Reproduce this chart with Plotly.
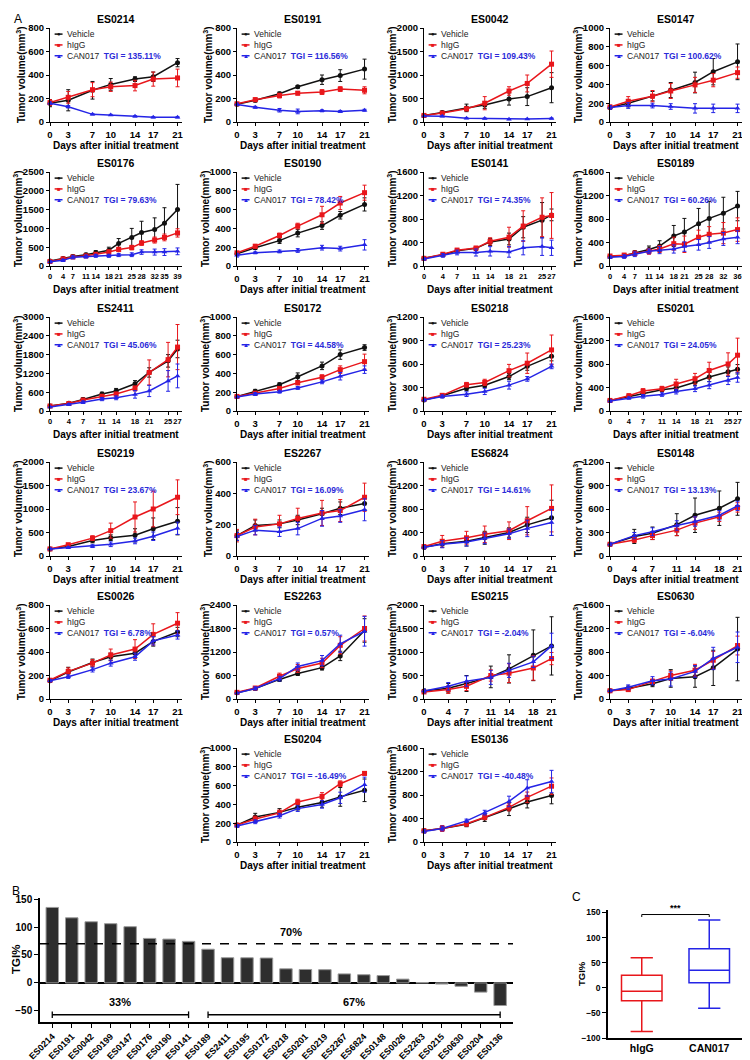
import plotly.graph_objects as go

W, H = 750, 1060
FONT = "Liberation Sans, Arial, sans-serif"
VEH_C = "#111111"
IGG_C = "#e8161b"
CAN_C = "#2424e6"
TGI_C = "#2b2bd9"

# ---------------------------------------------------------------------------
# Data: days and mean tumor volume (mm3) with error (SD) per model
# ---------------------------------------------------------------------------
DAYS_A = [0, 3, 7, 10, 14, 17, 21]
DAYS_B = [0, 4, 7, 11, 14, 18, 21]
DAYS_C = [0, 4, 7, 11, 14, 18, 21, 25, 27]
DAYS_ES0176 = [0, 4, 7, 11, 14, 18, 21, 25, 28, 32, 35, 39]
DAYS_ES0189 = [0, 4, 7, 11, 14, 18, 21, 25, 28, 32, 36]

es0214_veh = [160, 185, 270, 320, 365, 385, 505]
es0214_veh_sd = [30, 90, 75, 50, 20, 40, 35]
es0214_igg = [165, 210, 275, 300, 310, 365, 375]
es0214_igg_sd = [25, 50, 60, 40, 45, 60, 75]
es0214_can = [160, 130, 65, 60, 48, 40, 40]
es0214_can_sd = [10, 10, 5, 5, 5, 5, 5]

es0191_veh = [150, 185, 240, 300, 360, 395, 450]
es0191_veh_sd = [10, 15, 15, 10, 40, 50, 85]
es0191_igg = [155, 190, 225, 245, 255, 280, 270]
es0191_igg_sd = [10, 15, 20, 15, 20, 20, 30]
es0191_can = [150, 125, 100, 90, 95, 90, 100]
es0191_can_sd = [10, 8, 15, 20, 8, 8, 8]

es0042_veh = [140, 200, 300, 360, 490, 540, 730]
es0042_veh_sd = [20, 30, 80, 70, 130, 190, 320]
es0042_igg = [140, 190, 280, 400, 660, 820, 1230]
es0042_igg_sd = [20, 30, 40, 140, 90, 180, 280]
es0042_can = [130, 120, 80, 75, 60, 65, 75]
es0042_can_sd = [10, 10, 10, 10, 10, 10, 10]

es0147_veh = [155, 200, 275, 340, 420, 535, 640]
es0147_veh_sd = [20, 40, 50, 80, 110, 140, 190]
es0147_igg = [160, 220, 275, 330, 395, 445, 525]
es0147_igg_sd = [20, 50, 60, 80, 80, 70, 60]
es0147_can = [155, 175, 175, 165, 145, 145, 145]
es0147_can_sd = [20, 30, 25, 30, 50, 45, 45]

es0176_veh = [130, 200, 250, 300, 350, 420, 600, 760, 890, 970, 1140, 1500]
es0176_veh_sd = [30, 30, 40, 40, 60, 80, 130, 240, 300, 310, 410, 670]
es0176_igg = [120, 190, 240, 270, 310, 370, 440, 490, 610, 690, 760, 880]
es0176_igg_sd = [30, 30, 30, 40, 50, 60, 60, 60, 60, 80, 90, 110]
es0176_can = [110, 150, 230, 250, 270, 270, 290, 300, 370, 370, 370, 390]
es0176_can_sd = [30, 30, 40, 40, 40, 40, 40, 50, 60, 80, 90, 90]

es0190_veh = [130, 195, 270, 350, 430, 540, 655]
es0190_veh_sd = [15, 20, 30, 40, 40, 40, 70]
es0190_igg = [140, 210, 325, 425, 545, 670, 780]
es0190_igg_sd = [15, 20, 25, 30, 90, 70, 80]
es0190_can = [115, 140, 155, 165, 195, 185, 225]
es0190_can_sd = [20, 10, 15, 20, 25, 25, 55]

es0141_veh = [130, 190, 260, 300, 410, 460, 660, 780, 870]
es0141_veh_sd = [20, 30, 30, 30, 60, 100, 180, 300, 100]
es0141_igg = [130, 200, 270, 305, 420, 490, 680, 830, 860]
es0141_igg_sd = [20, 30, 30, 30, 60, 170, 260, 330, 390]
es0141_can = [120, 180, 230, 230, 250, 240, 310, 330, 310]
es0141_can_sd = [20, 30, 40, 60, 80, 90, 120, 150, 130]

es0189_veh = [160, 175, 220, 280, 340, 510, 580, 720, 810, 900, 1020]
es0189_veh_sd = [20, 30, 40, 60, 90, 180, 230, 260, 290, 270, 250]
es0189_igg = [170, 185, 215, 250, 290, 380, 370, 490, 540, 560, 620]
es0189_igg_sd = [20, 30, 40, 50, 60, 110, 140, 120, 130, 180, 200]
es0189_can = [150, 160, 200, 250, 270, 290, 330, 360, 400, 460, 490]
es0189_can_sd = [20, 30, 40, 40, 60, 70, 80, 90, 100, 110, 110]

es2411_veh = [160, 250, 370, 540, 640, 870, 1230, 1600, 1980]
es2411_veh_sd = [30, 40, 50, 60, 80, 100, 150, 200, 280]
es2411_igg = [160, 240, 350, 470, 540, 720, 1230, 1640, 2040]
es2411_igg_sd = [30, 40, 40, 50, 60, 80, 400, 550, 720]
es2411_can = [130, 210, 280, 380, 420, 530, 640, 960, 1120]
es2411_can_sd = [20, 30, 40, 50, 60, 120, 180, 330, 380]

es0172_veh = [155, 210, 280, 365, 480, 600, 675]
es0172_veh_sd = [10, 20, 20, 40, 40, 50, 30]
es0172_igg = [155, 190, 240, 300, 360, 440, 525]
es0172_igg_sd = [10, 15, 20, 20, 25, 40, 80]
es0172_can = [150, 180, 205, 245, 310, 370, 440]
es0172_can_sd = [10, 15, 15, 15, 20, 40, 40]

es0218_veh = [140, 195, 290, 330, 440, 570, 700]
es0218_veh_sd = [15, 20, 30, 30, 40, 50, 60]
es0218_igg = [150, 200, 335, 365, 515, 610, 780]
es0218_igg_sd = [15, 20, 30, 40, 80, 130, 190]
es0218_can = [140, 185, 215, 250, 330, 410, 570]
es0218_can_sd = [15, 20, 30, 40, 50, 30, 30]

es0201_veh = [180, 250, 300, 360, 390, 490, 580, 670, 710]
es0201_veh_sd = [20, 30, 30, 30, 40, 60, 80, 80, 80]
es0201_igg = [180, 260, 340, 380, 460, 550, 690, 800, 950]
es0201_igg_sd = [20, 30, 40, 40, 80, 90, 140, 190, 290]
es0201_can = [170, 220, 250, 280, 330, 380, 440, 520, 570]
es0201_can_sd = [20, 20, 30, 30, 40, 50, 60, 70, 80]

es0219_veh = [150, 200, 330, 390, 440, 580, 740]
es0219_veh_sd = [20, 30, 50, 60, 140, 230, 290]
es0219_igg = [150, 240, 380, 540, 830, 1000, 1250]
es0219_igg_sd = [20, 30, 50, 160, 320, 380, 370]
es0219_can = [150, 180, 210, 250, 320, 420, 590]
es0219_can_sd = [20, 20, 30, 50, 60, 90, 130]

es2267_veh = [130, 195, 205, 230, 270, 305, 335]
es2267_veh_sd = [30, 35, 25, 30, 35, 40, 40]
es2267_igg = [130, 185, 205, 240, 275, 290, 375]
es2267_igg_sd = [40, 50, 55, 65, 80, 70, 90]
es2267_can = [125, 165, 155, 175, 240, 255, 295]
es2267_can_sd = [25, 30, 30, 40, 50, 40, 70]

es6824_veh = [150, 210, 250, 310, 400, 530, 650]
es6824_veh_sd = [30, 60, 80, 110, 80, 130, 300]
es6824_igg = [160, 250, 310, 370, 430, 600, 810]
es6824_igg_sd = [30, 100, 110, 140, 150, 240, 400]
es6824_can = [150, 200, 240, 300, 380, 470, 570]
es6824_can_sd = [30, 60, 70, 90, 80, 140, 220]

es0148_veh = [150, 250, 290, 400, 520, 610, 730]
es0148_veh_sd = [20, 90, 80, 140, 220, 220, 210]
es0148_igg = [150, 205, 260, 330, 420, 500, 620]
es0148_igg_sd = [15, 30, 50, 70, 80, 60, 60]
es0148_can = [150, 260, 310, 390, 440, 520, 640]
es0148_can_sd = [20, 40, 50, 60, 60, 60, 60]

es0026_veh = [155, 230, 310, 360, 390, 490, 570]
es0026_veh_sd = [10, 40, 30, 30, 30, 40, 40]
es0026_igg = [160, 235, 305, 375, 425, 550, 645]
es0026_igg_sd = [10, 30, 30, 50, 80, 90, 90]
es0026_can = [155, 190, 250, 305, 360, 495, 545]
es0026_can_sd = [10, 15, 20, 25, 30, 35, 35]

es2263_veh = [160, 270, 500, 650, 800, 1100, 1750]
es2263_veh_sd = [20, 40, 50, 50, 60, 120, 300]
es2263_igg = [170, 280, 580, 780, 920, 1370, 1800]
es2263_igg_sd = [20, 40, 80, 100, 120, 220, 320]
es2263_can = [150, 270, 520, 830, 980, 1410, 1730]
es2263_can_sd = [20, 40, 60, 90, 130, 220, 380]

es0215_veh = [170, 230, 330, 470, 640, 930, 1130]
es0215_veh_sd = [40, 100, 170, 230, 300, 540, 620]
es0215_igg = [150, 200, 270, 500, 550, 660, 860]
es0215_igg_sd = [30, 80, 90, 120, 200, 260, 130]
es0215_can = [170, 270, 380, 460, 610, 790, 1130]
es0215_can_sd = [40, 80, 110, 150, 150, 120, 270]

es0630_veh = [140, 180, 260, 350, 380, 530, 850]
es0630_veh_sd = [20, 40, 50, 150, 180, 300, 540]
es0630_igg = [140, 160, 300, 400, 490, 660, 910]
es0630_igg_sd = [20, 30, 40, 80, 100, 150, 160]
es0630_can = [140, 200, 310, 340, 470, 690, 880]
es0630_can_sd = [20, 40, 70, 120, 100, 190, 260]

es0204_veh = [180, 265, 315, 370, 420, 480, 550]
es0204_veh_sd = [15, 40, 40, 30, 50, 100, 120]
es0204_igg = [180, 245, 310, 425, 485, 620, 730]
es0204_igg_sd = [15, 30, 30, 30, 40, 30, 20]
es0204_can = [170, 215, 280, 355, 400, 470, 610]
es0204_can_sd = [15, 20, 25, 30, 40, 60, 80]

es0136_veh = [190, 230, 300, 410, 560, 680, 790]
es0136_veh_sd = [30, 40, 40, 60, 110, 100, 140]
es0136_igg = [190, 230, 310, 420, 590, 760, 950]
es0136_igg_sd = [30, 50, 40, 40, 60, 90, 140]
es0136_can = [180, 230, 360, 500, 690, 920, 1030]
es0136_can_sd = [30, 40, 30, 40, 90, 140, 190]

# Panel B: TGI per model (sorted)
TGI_MODELS = ["ES0214", "ES0191", "ES0042", "ES0199", "ES0147", "ES0176",
              "ES0190", "ES0141", "ES0189", "ES2411", "ES0195", "ES0172",
              "ES0218", "ES0201", "ES0219", "ES2267", "ES6824", "ES0148",
              "ES0026", "ES2263", "ES0215", "ES0630", "ES0204", "ES0136"]
TGI_VALUES = [135.11, 116.56, 109.43, 106.0, 100.62, 79.63, 78.42, 74.35,
              60.26, 45.06, 45.0, 44.58, 25.23, 24.05, 23.67, 16.09, 14.61,
              13.13, 6.78, 0.57, -2.04, -6.04, -16.49, -40.48]

# Panel C: box statistics of TGI%
BOX_GROUPS = ["hIgG", "CAN017"]
BOX_LOW = [-87, -40.5]
BOX_Q1 = [-26, 10]
BOX_MED = [-7, 35]
BOX_Q3 = [25, 78]
BOX_HIGH = [60, 135]

# (title, days, y max, y step, vehicle, sd, hIgG, sd, CAN017, sd, col, row)
PANELS = [
    ("ES0214", DAYS_A, 800, 200, es0214_veh, es0214_veh_sd, es0214_igg, es0214_igg_sd, es0214_can, es0214_can_sd, 0, 0),
    ("ES0191", DAYS_A, 800, 200, es0191_veh, es0191_veh_sd, es0191_igg, es0191_igg_sd, es0191_can, es0191_can_sd, 1, 0),
    ("ES0042", DAYS_A, 2000, 500, es0042_veh, es0042_veh_sd, es0042_igg, es0042_igg_sd, es0042_can, es0042_can_sd, 2, 0),
    ("ES0147", DAYS_A, 1000, 200, es0147_veh, es0147_veh_sd, es0147_igg, es0147_igg_sd, es0147_can, es0147_can_sd, 3, 0),
    ("ES0176", DAYS_ES0176, 2500, 500, es0176_veh, es0176_veh_sd, es0176_igg, es0176_igg_sd, es0176_can, es0176_can_sd, 0, 1),
    ("ES0190", DAYS_A, 1000, 200, es0190_veh, es0190_veh_sd, es0190_igg, es0190_igg_sd, es0190_can, es0190_can_sd, 1, 1),
    ("ES0141", DAYS_C, 1600, 400, es0141_veh, es0141_veh_sd, es0141_igg, es0141_igg_sd, es0141_can, es0141_can_sd, 2, 1),
    ("ES0189", DAYS_ES0189, 1600, 400, es0189_veh, es0189_veh_sd, es0189_igg, es0189_igg_sd, es0189_can, es0189_can_sd, 3, 1),
    ("ES2411", DAYS_C, 3000, 600, es2411_veh, es2411_veh_sd, es2411_igg, es2411_igg_sd, es2411_can, es2411_can_sd, 0, 2),
    ("ES0172", DAYS_A, 1000, 200, es0172_veh, es0172_veh_sd, es0172_igg, es0172_igg_sd, es0172_can, es0172_can_sd, 1, 2),
    ("ES0218", DAYS_A, 1200, 300, es0218_veh, es0218_veh_sd, es0218_igg, es0218_igg_sd, es0218_can, es0218_can_sd, 2, 2),
    ("ES0201", DAYS_C, 1600, 400, es0201_veh, es0201_veh_sd, es0201_igg, es0201_igg_sd, es0201_can, es0201_can_sd, 3, 2),
    ("ES0219", DAYS_A, 2000, 500, es0219_veh, es0219_veh_sd, es0219_igg, es0219_igg_sd, es0219_can, es0219_can_sd, 0, 3),
    ("ES2267", DAYS_A, 600, 200, es2267_veh, es2267_veh_sd, es2267_igg, es2267_igg_sd, es2267_can, es2267_can_sd, 1, 3),
    ("ES6824", DAYS_A, 1600, 400, es6824_veh, es6824_veh_sd, es6824_igg, es6824_igg_sd, es6824_can, es6824_can_sd, 2, 3),
    ("ES0148", DAYS_B, 1200, 300, es0148_veh, es0148_veh_sd, es0148_igg, es0148_igg_sd, es0148_can, es0148_can_sd, 3, 3),
    ("ES0026", DAYS_A, 800, 200, es0026_veh, es0026_veh_sd, es0026_igg, es0026_igg_sd, es0026_can, es0026_can_sd, 0, 4),
    ("ES2263", DAYS_A, 2400, 600, es2263_veh, es2263_veh_sd, es2263_igg, es2263_igg_sd, es2263_can, es2263_can_sd, 1, 4),
    ("ES0215", DAYS_B, 2000, 500, es0215_veh, es0215_veh_sd, es0215_igg, es0215_igg_sd, es0215_can, es0215_can_sd, 2, 4),
    ("ES0630", DAYS_A, 1600, 400, es0630_veh, es0630_veh_sd, es0630_igg, es0630_igg_sd, es0630_can, es0630_can_sd, 3, 4),
    ("ES0204", DAYS_A, 1000, 200, es0204_veh, es0204_veh_sd, es0204_igg, es0204_igg_sd, es0204_can, es0204_can_sd, 1, 5),
    ("ES0136", DAYS_A, 1600, 400, es0136_veh, es0136_veh_sd, es0136_igg, es0136_igg_sd, es0136_can, es0136_can_sd, 2, 5),
]

# grid geometry in pixels
COL_X = [42, 229, 416, 602]
ROW_Y = [20, 164, 309, 454, 597, 740]
PW, PH = 132, 94


def px_x(x):
    return x / W


def px_y(y):
    return 1 - y / H


def axis_font(size=9):
    return dict(family=FONT, size=size, color="black", weight="bold")


def paper_text(text, x, y, size, angle=0, xanchor="center", yanchor="middle", color="black"):
    return dict(text=text, x=px_x(x), y=px_y(y), xref="paper", yref="paper", textangle=angle,
                xanchor=xanchor, yanchor=yanchor, showarrow=False,
                font=dict(family=FONT, size=size, color=color))


fig = go.Figure()
layout = {}
annotations = []
shapes = []

GROUPS = [("Vehicle", VEH_C, "circle"), ("hIgG", IGG_C, "square"), ("CAN017", CAN_C, "triangle-up")]
GLYPHS = {"circle": "●", "square": "■", "triangle-up": "▲"}

for n, (title, days, ymax, ystep, veh, veh_sd, igg, igg_sd, can, can_sd, col, row) in enumerate(PANELS, start=1):
    sfx = "" if n == 1 else str(n)
    x0, y0 = COL_X[col], ROW_Y[row]
    series = [(veh, veh_sd), (igg, igg_sd), (can, can_sd)]
    for (name, color, sym), (vals, sd) in zip(GROUPS, series):
        fig.add_trace(go.Scatter(
            x=days, y=vals, mode="lines+markers", name=name, showlegend=False,
            line=dict(color=color, width=1.5),
            marker=dict(color=color, symbol=sym, size=5),
            error_y=dict(type="data", array=sd, color=color, thickness=1, width=2),
            cliponaxis=False, xaxis="x" + sfx, yaxis="y" + sfx,
        ))
    xt_size = 7.5 if len(days) > 7 else 9.5
    layout["xaxis" + sfx] = dict(
        domain=[px_x(x0), px_x(x0 + PW)], anchor="y" + sfx, automargin=False,
        range=[0, days[-1] * 1.035], tickvals=days, tickangle=0,
        showline=True, linecolor="black", linewidth=1.2, ticks="outside",
        ticklen=3, tickwidth=1.2, tickcolor="black", showgrid=False, zeroline=False,
        tickfont=axis_font(xt_size),
    )
    layout["yaxis" + sfx] = dict(
        domain=[px_y(y0 + PH), px_y(y0)], anchor="x" + sfx, automargin=False,
        range=[0, ymax], dtick=ystep, tick0=0,
        showline=True, linecolor="black", linewidth=1.2, ticks="outside",
        ticklen=3, tickwidth=1.2, tickcolor="black", showgrid=False, zeroline=False,
        tickfont=axis_font(9.5),
    )
    # panel title and axis titles
    annotations.append(paper_text("<b>%s</b>" % title, x0 + PW / 2, y0 - 1, 10.5, yanchor="bottom"))
    annotations.append(paper_text("<b>Days after initial treatment</b>", x0 + PW / 2, y0 + PH + 23, 10))
    ylab_off = 32 if ymax >= 1000 else 29
    annotations.append(paper_text("<b>Tumor volume(mm<sup>3</sup>)</b>", x0 - ylab_off, y0 + PH / 2, 10, angle=-90))
    # in-plot legend
    tgi = TGI_VALUES[TGI_MODELS.index(title)]
    for k, ((name, color, sym), ly) in enumerate(zip(GROUPS, [0.935, 0.82, 0.705])):
        shapes.append(dict(type="line", xref="x%s domain" % sfx, yref="y%s domain" % sfx,
                           x0=0.035, x1=0.095, y0=ly, y1=ly, line=dict(color=color, width=1.5)))
        annotations.append(dict(text=GLYPHS[sym], x=0.065, y=ly, xref="x%s domain" % sfx, yref="y%s domain" % sfx,
                                showarrow=False, font=dict(size=6, color=color), xanchor="center", yanchor="middle"))
        label = name
        if k == 2:
            label = name + "  <span style='color:%s'><b>TGI = %.2f%%</b></span>" % (TGI_C, tgi)
        annotations.append(dict(text=label, x=0.11, y=ly, xref="x%s domain" % sfx, yref="y%s domain" % sfx,
                                showarrow=False, xanchor="left", yanchor="middle",
                                font=dict(family=FONT, size=8.5, color="#222222")))

# ---------------------------------------------------------------------------
# Panel B: waterfall of TGI%
# ---------------------------------------------------------------------------
nb = len(PANELS) + 1
xb, yb = "x%d" % nb, "y%d" % nb
fig.add_trace(go.Bar(
    x=TGI_MODELS, y=TGI_VALUES, width=0.64, showlegend=False,
    marker=dict(color="#2e2e2e", line=dict(color="#9a9a9a", width=1)),
    xaxis=xb, yaxis=yb,
))
layout["xaxis%d" % nb] = dict(
    domain=[px_x(32), px_x(505)], anchor=yb, range=[-0.63, len(TGI_MODELS) - 0.34], automargin=False,
    showline=True, linecolor="black", linewidth=1.5, ticks="outside", ticklen=4,
    tickwidth=1.2, tickcolor="black", tickangle=-45, tickfont=axis_font(9), showgrid=False,
)
layout["yaxis%d" % nb] = dict(
    domain=[px_y(1014), px_y(890)], anchor=xb, range=[-70, 152], automargin=False,
    tickvals=[-50, 0, 50, 100, 150], showline=True, linecolor="black", linewidth=1.5,
    ticks="outside", ticklen=4, tickwidth=1.2, tickcolor="black", tickfont=axis_font(10),
    showgrid=False, zeroline=True, zerolinecolor="black", zerolinewidth=2,
)
annotations.append(paper_text("<b>TGI%</b>", 8, (1014 + 890) / 2, 11.5, angle=-90))
shapes.append(dict(type="line", xref=xb + " domain", yref=yb, x0=0, x1=1, y0=70, y1=70,
                   line=dict(color="black", width=1.5, dash="dash")))
annotations.append(dict(text="<b>70%</b>", x=0.53, y=70, xref=xb + " domain", yref=yb,
                        yanchor="bottom", yshift=4, showarrow=False, font=dict(family=FONT, size=11, color="black")))
for a, b, lab in [(0, 7, "33%"), (8, len(TGI_MODELS) - 1, "67%")]:
    shapes.append(dict(type="line", xref=xb, yref=yb, x0=a, x1=b, y0=-57, y1=-57, line=dict(color="black", width=1.3)))
    for e in (a, b):
        shapes.append(dict(type="line", xref=xb, yref=yb, x0=e, x1=e, y0=-51, y1=-63, line=dict(color="black", width=1.3)))
    annotations.append(dict(text="<b>%s</b>" % lab, x=(a + b) / 2, y=-57, xref=xb, yref=yb, yanchor="bottom",
                            yshift=5, showarrow=False, font=dict(family=FONT, size=11, color="black")))

# ---------------------------------------------------------------------------
# Panel C: box plot
# ---------------------------------------------------------------------------
nc = nb + 1
xc, yc = "x%d" % nc, "y%d" % nc
for i, (grp, color) in enumerate(zip(BOX_GROUPS, [IGG_C, CAN_C])):
    fig.add_trace(go.Box(
        x=[grp], q1=[BOX_Q1[i]], median=[BOX_MED[i]], q3=[BOX_Q3[i]],
        lowerfence=[BOX_LOW[i]], upperfence=[BOX_HIGH[i]],
        line=dict(color=color, width=1.5), fillcolor="rgba(0,0,0,0)", whiskerwidth=0.55,
        width=0.6, boxpoints=False, showlegend=False, xaxis=xc, yaxis=yc,
    ))
layout["xaxis%d" % nc] = dict(
    domain=[px_x(600), px_x(735)], anchor=yc, range=[-0.5, 1.5], automargin=False,
    showline=True, linecolor="black", linewidth=1.5, ticks="", tickfont=axis_font(10.5), showgrid=False,
)
layout["yaxis%d" % nc] = dict(
    domain=[px_y(1030), px_y(902)], anchor=xc, range=[-100, 155], tickvals=[-100, -50, 0, 50, 100, 150],
    showline=True, linecolor="black", linewidth=1.5, ticks="outside", ticklen=4, tickwidth=1.2, automargin=False,
    tickcolor="black", tickfont=axis_font(8.5), showgrid=False, zeroline=False,
)
annotations.append(paper_text("<b>TGI%</b>", 573, (1030 + 902) / 2, 9.5, angle=-90))
shapes.append(dict(type="path", xref=xc, yref=yc, path="M 0,141 L 0,146 L 1,146 L 1,141",
                   line=dict(color="black", width=1)))
annotations.append(dict(text="<b>***</b>", x=0.5, y=146, xref=xc, yref=yc, yanchor="bottom",
                        showarrow=False, font=dict(family=FONT, size=9, color="black")))

# panel letters
for lab, x, y in [("A", 4, 2), ("B", 2, 874), ("C", 562, 880)]:
    annotations.append(paper_text(lab, x, y, 12, xanchor="left", yanchor="top"))

fig.update_layout(
    width=W, height=H, margin=dict(l=0, r=0, t=0, b=0),
    paper_bgcolor="white", plot_bgcolor="white",
    font=dict(family=FONT, color="black"),
    annotations=annotations, shapes=shapes, **layout,
)
fig.write_html("out.html")
